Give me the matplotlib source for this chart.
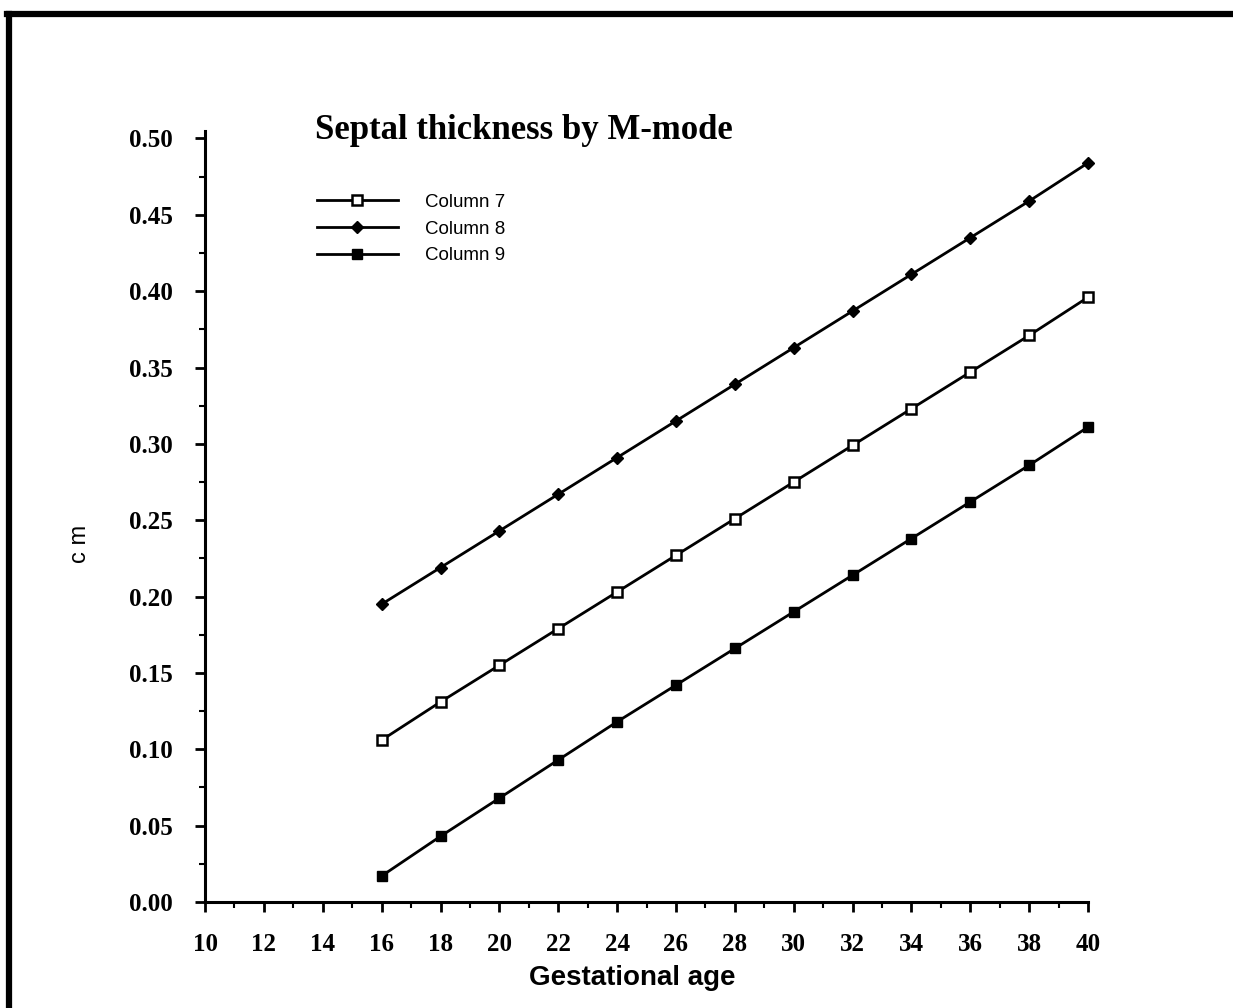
import numpy as np
import matplotlib
matplotlib.use("Agg")
import matplotlib.pyplot as plt
from matplotlib.lines import Line2D
from matplotlib.ticker import MultipleLocator

# values
weeks = [16, 18, 20, 22, 24, 26, 28, 30, 32, 34, 36, 38, 40]
col7 = [0.106, 0.131, 0.155, 0.179, 0.203, 0.227, 0.251, 0.275, 0.299, 0.323, 0.347, 0.371, 0.396]
col8 = [0.195, 0.219, 0.243, 0.267, 0.291, 0.315, 0.339, 0.363, 0.387, 0.411, 0.435, 0.459, 0.484]
col9 = [0.017, 0.043, 0.068, 0.093, 0.118, 0.142, 0.166, 0.190, 0.214, 0.238, 0.262, 0.286, 0.311]
series_names = ["Column 7", "Column 8", "Column 9"]

xticks = [10, 12, 14, 16, 18, 20, 22, 24, 26, 28, 30, 32, 34, 36, 38, 40]
yticks = [0.00, 0.05, 0.10, 0.15, 0.20, 0.25, 0.30, 0.35, 0.40, 0.45, 0.50]
ytick_labels = ["0.00", "0.05", "0.10", "0.15", "0.20", "0.25", "0.30", "0.35", "0.40", "0.45", "0.50"]

fig = plt.figure(figsize=(12.33, 10.08), dpi=100)
ax = fig.add_axes([0.1663, 0.1052, 0.7161, 0.765])

ax.plot(weeks, col7, color="black", lw=2, marker="s", ms=7.5, mfc="white", mec="black", mew=1.8,
        label=series_names[0], clip_on=False)
ax.plot(weeks, col8, color="black", lw=2, marker="D", ms=6, mfc="black", mec="black",
        label=series_names[1], clip_on=False)
ax.plot(weeks, col9, color="black", lw=2, marker="s", ms=7, mfc="black", mec="black",
        label=series_names[2], clip_on=False)

ax.set_xlim(10, 40)
ax.set_ylim(0, 0.505)
ax.set_xticks(xticks)
ax.set_xticklabels([str(v) for v in xticks])
ax.set_yticks(yticks)
ax.set_yticklabels(ytick_labels)
ax.xaxis.set_minor_locator(MultipleLocator(1))
ax.yaxis.set_minor_locator(MultipleLocator(0.025))

for s in ["top", "right"]:
    ax.spines[s].set_visible(False)
for s in ["left", "bottom"]:
    ax.spines[s].set_linewidth(2.2)

ax.tick_params(which="major", length=7, width=2, direction="out")
ax.tick_params(which="minor", length=4, width=1.5, direction="out")
ax.tick_params(axis="y", pad=16)
ax.tick_params(axis="x", pad=15)
for lab in ax.get_xticklabels() + ax.get_yticklabels():
    lab.set_fontfamily("Liberation Serif")
    lab.set_fontweight("bold")
    lab.set_fontsize(18)

fig.text(0.513, 0.03, "Gestational age", ha="center", va="center",
         fontfamily="Liberation Sans", fontweight="bold", fontsize=20)
fig.text(0.065, 0.46, "c m", rotation=90, ha="center", va="center",
         fontfamily="Liberation Sans", fontsize=17)
fig.text(0.425, 0.871, "Septal thickness by M-mode", ha="center", va="center",
         fontfamily="Liberation Serif", fontweight="bold", fontsize=25)

leg = ax.legend(loc="upper left", bbox_to_anchor=(0.257, 0.808), bbox_transform=fig.transFigure,
                frameon=False, borderpad=0, borderaxespad=0, handlelength=4.3, handletextpad=1.44,
                labelspacing=0.52, prop={"family": "Liberation Sans", "size": 13.5})

# scanned page border (top and left edges)
fig.add_artist(Line2D([0.0057, 1.0], [0.9866, 0.9866], color="black", lw=4.5, transform=fig.transFigure))
fig.add_artist(Line2D([0.0077, 0.0077], [0.0, 0.9866], color="black", lw=4.5, transform=fig.transFigure))

fig.savefig("out.png", dpi=100, facecolor="white")
